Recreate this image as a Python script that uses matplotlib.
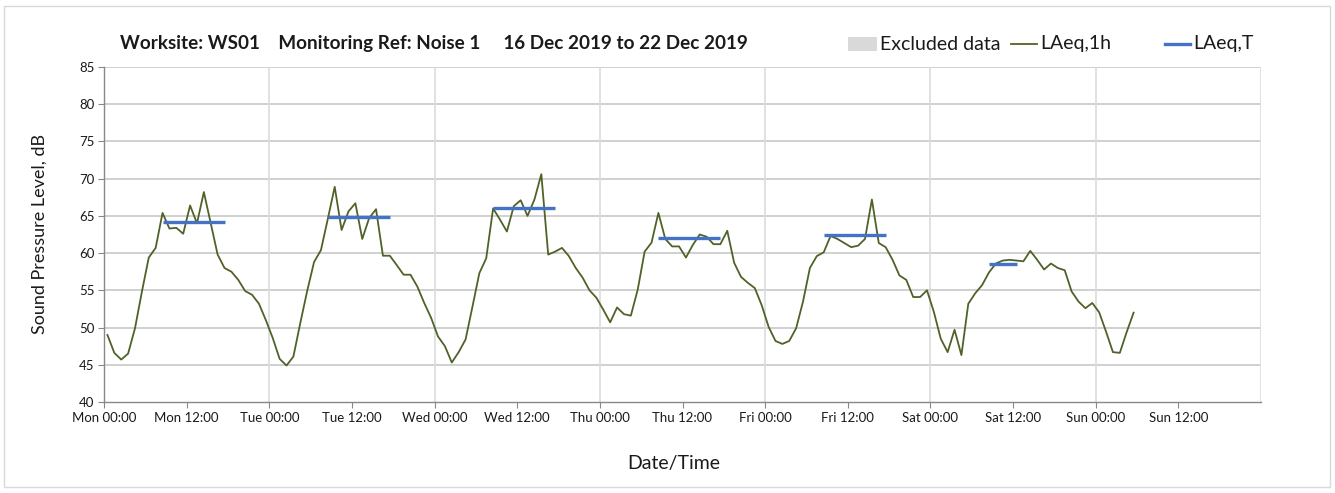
import numpy as np
import matplotlib
matplotlib.use("Agg")
import matplotlib.pyplot as plt
from matplotlib.lines import Line2D
from matplotlib.patches import Rectangle

plt.rcParams['font.family'] = ['Lato', 'DejaVu Sans']

# ---------------- data ----------------
title = "Worksite: WS01    Monitoring Ref: Noise 1     16 Dec 2019 to 22 Dec 2019"

laeq_1h = [
    49.0, 46.6, 45.7, 46.5, 49.9, 54.8, 59.4, 60.7, 65.4, 63.3, 63.4, 62.6,
    66.4, 64.0, 68.2, 64.0, 59.8, 58.0, 57.5, 56.4, 54.9, 54.4, 53.2, 51.0,
    48.6, 45.8, 44.9, 46.1, 50.6, 54.9, 58.8, 60.4, 64.6, 68.9, 63.1, 65.6,
    66.7, 61.9, 64.7, 65.9, 59.65, 59.65, 58.4, 57.1, 57.1, 55.5, 53.3, 51.3,
    48.8, 47.5, 45.3, 46.7, 48.4, 52.8, 57.3, 59.3, 66.0, 64.5, 62.9, 66.3,
    67.1, 65.0, 67.2, 70.6, 59.8, 60.2, 60.7, 59.6, 58.0, 56.7, 55.0, 54.0,
    52.4, 50.7, 52.7, 51.8, 51.6, 55.1, 60.2, 61.4, 65.4, 61.9, 60.9, 60.9,
    59.4, 61.1, 62.5, 62.2, 61.2, 61.2, 63.0, 58.7, 56.8, 56.0, 55.3, 53.0,
    50.1, 48.2, 47.8, 48.2, 49.9, 53.5, 58.0, 59.6, 60.1, 62.3, 61.9, 61.35,
    60.8, 61.0, 61.9, 67.2, 61.35, 60.8, 59.1, 57.0, 56.4, 54.1, 54.1, 55.0,
    52.1, 48.5, 46.7, 49.7, 46.3, 53.2, 54.6, 55.7, 57.4, 58.6, 59.0, 59.1,
    59.0, 58.9, 60.3, 59.1, 57.8, 58.6, 58.0, 57.7, 54.85, 53.5, 52.6, 53.3,
    52.05, 49.45, 46.7, 46.6, 49.4, 52.0,
]

# LAeq,T periods (hours from Mon 00:00) and values
period_start = [8, 32, 56, 80, 104, 128]
period_end = [18, 42, 66, 90, 114, 133]
laeq_T = [64.2, 64.8, 66.0, 62.0, 62.4, 58.6]

tick_hours = list(range(0, 157, 12))
tick_labels = ["Mon 00:00", "Mon 12:00", "Tue 00:00", "Tue 12:00", "Wed 00:00",
               "Wed 12:00", "Thu 00:00", "Thu 12:00", "Fri 00:00", "Fri 12:00",
               "Sat 00:00", "Sat 12:00", "Sun 00:00", "Sun 12:00"]
y_ticks = list(range(40, 86, 5))
legend_labels = ["Excluded data", "LAeq,1h", "LAeq,T"]

# ---------------- style ----------------
GREEN = "#4F6228"
BLUE = "#4472C4"
EXCL = "#D9D9D9"
TXT = "#1a1a1a"
W, H = 1335, 493


def fx(px):
    return px / W


def fy(py):
    return 1 - py / H


fig = plt.figure(figsize=(W / 100, H / 100), dpi=100)
fig.patch.set_facecolor("white")
# outer chart border
fig.add_artist(Rectangle((fx(4), fy(487)), (W - 9) / W, (487 - 6) / H,
                         transform=fig.transFigure, fill=False,
                         edgecolor="#D9D9D9", linewidth=1.0))

ax = fig.add_axes([fx(104), fy(402), (1261 - 104) / W, (402 - 67) / H])

hours = np.arange(len(laeq_1h)) + 0.5
ax.plot(hours, laeq_1h, color=GREEN, linewidth=1.3, zorder=3)
for s, e, v in zip(period_start, period_end, laeq_T):
    ax.plot([s + 0.5, e - 0.5], [v, v], color=BLUE, linewidth=2.4,
            solid_capstyle="butt", zorder=4)

ax.set_xlim(0, 168)
ax.set_ylim(40, 85)
ax.set_yticks(y_ticks)
ax.set_xticks(tick_hours)
ax.set_xticklabels(tick_labels)
ax.tick_params(axis="both", labelsize=9.5, length=4, width=0.8,
               direction="out", colors="#888888", labelcolor=TXT)
ax.tick_params(axis="y", pad=3)

# grid
for yv in y_ticks[1:]:
    ax.axhline(yv, color="#C8C8C8", linewidth=1.2, zorder=1)
for xv in range(24, 169, 24):
    ax.axvline(xv, color="#DCDCDC", linewidth=1.2, zorder=1)

for side in ["top", "right"]:
    ax.spines[side].set_visible(False)
for side in ["left", "bottom"]:
    ax.spines[side].set_color("#888888")
    ax.spines[side].set_linewidth(1.0)

ax.set_ylabel("Sound Pressure Level, dB", fontsize=13, color=TXT)
ax.yaxis.set_label_coords((40 - 104) / (1261 - 104), 0.5)
ax.set_xlabel("Date/Time", fontsize=14, color=TXT)
ax.xaxis.set_label_coords((674 - 104) / (1261 - 104), -(463 - 402) / (402 - 67))
ax.xaxis.label.set_va("center")
ax.yaxis.label.set_va("center")

fig.text(fx(120), fy(44), title, fontsize=13.6, fontweight="bold",
         va="center", ha="left", color=TXT)

# legend (manual layout, like the original)
yl = fy(44)
fig.add_artist(Rectangle((fx(848), fy(51)), 29 / W, 14 / H,
                         transform=fig.transFigure, facecolor=EXCL,
                         edgecolor="none"))
fig.text(fx(880), yl, legend_labels[0], fontsize=14, va="center", ha="left",
         color=TXT)
fig.add_artist(Line2D([fx(1011), fx(1037)], [yl, yl], transform=fig.transFigure,
                      color=GREEN, linewidth=1.3))
fig.text(fx(1040), yl, legend_labels[1], fontsize=14, va="center", ha="left",
         color=TXT)
fig.add_artist(Line2D([fx(1165), fx(1190)], [yl, yl], transform=fig.transFigure,
                      color=BLUE, linewidth=2.4))
fig.text(fx(1193), yl, legend_labels[2], fontsize=14, va="center", ha="left",
         color=TXT)

fig.savefig("out.png", dpi=100, facecolor="white")
